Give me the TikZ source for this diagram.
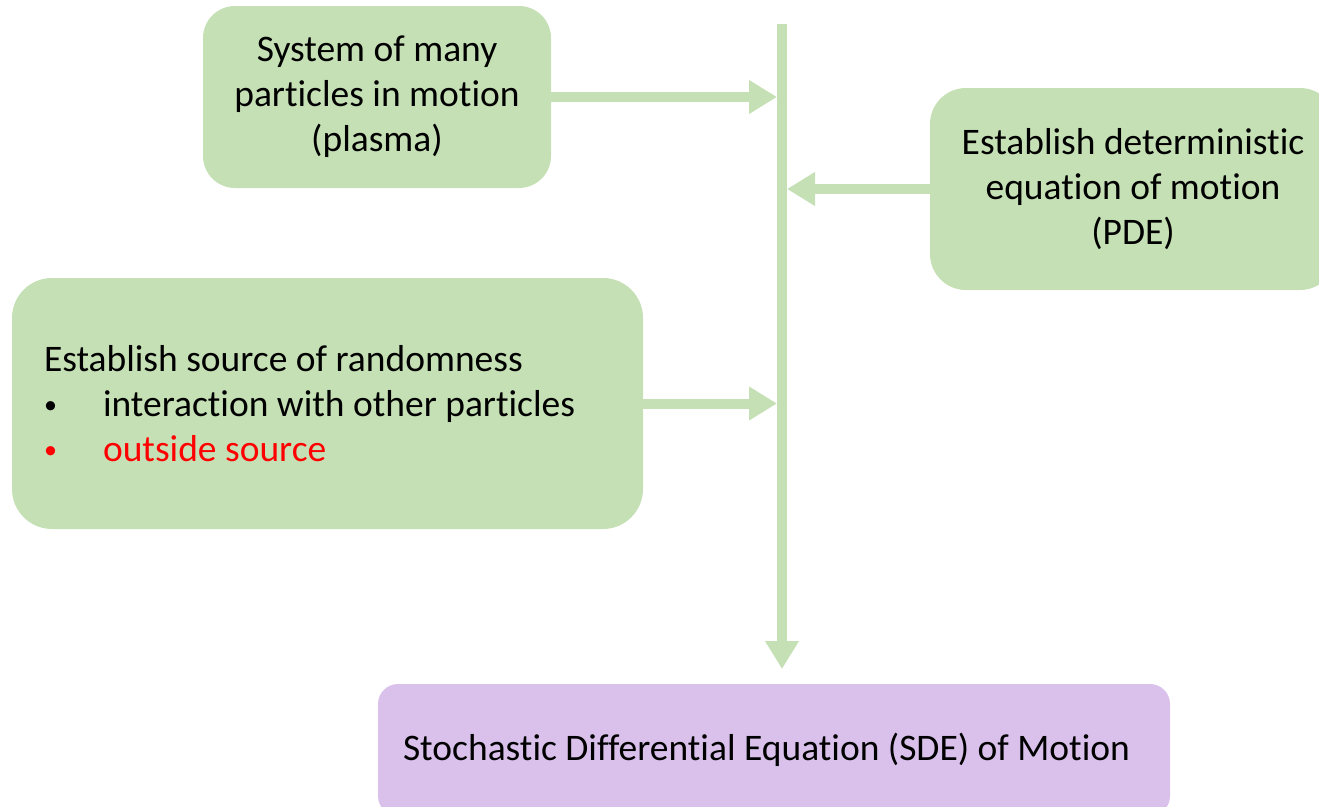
\documentclass[tikz,border=0pt]{standalone}
\usepackage{fontspec}
\setmainfont{Carlito}[Ligatures=NoCommon]
\usetikzlibrary{arrows.meta,positioning}
\definecolor{boxgreen}{HTML}{C5E0B4}
\definecolor{boxpurple}{HTML}{D9C1EB}
\newcommand{\bulletitem}{\makebox[59pt][l]{\raisebox{3pt}{\fontsize{26}{26}\selectfont\textbullet}}}
\begin{document}
\begin{tikzpicture}[x=1pt, y=-1pt,
    every node/.style={font=\fontsize{37.5}{45}\selectfont},
    greenbox/.style={fill=boxgreen, rounded corners=32pt, inner sep=0pt},
    flow/.style={draw=boxgreen, line width=10pt, -{Triangle[width=32pt,length=28pt]}}]
    % Page frame
    \useasboundingbox (0,0) rectangle (1319,806);

    % Boxes
    \node[greenbox, minimum width=348pt, minimum height=182pt, align=center]
        (sys) at (377,97) {System of many\\particles in motion\\(plasma)};
    \node[greenbox, rounded corners=36pt, minimum width=406pt, minimum height=202pt, align=center]
        (det) at (1133,189) {Establish deterministic\\equation of motion\\(PDE)};
    \node[greenbox, rounded corners=40pt, minimum width=631pt, minimum height=251pt,
        text width=567pt, inner xsep=32pt, align=flush left]
        (rand) at (327.5,403.5) {Establish source of randomness\\
        \bulletitem interaction with other particles\\
        \color{red}\bulletitem outside source};
    \node[fill=boxpurple, rounded corners=20pt, minimum width=792pt, minimum height=132pt,
        text width=742pt, inner xsep=25pt, inner ysep=0pt, align=flush left]
        (sde) at (774,750) {Stochastic Differential Equation (SDE) of Motion};

    % Main spine down to the SDE box
    \coordinate (spine) at (782,24);
    \draw[flow] (spine) -- (782,669);

    % Inputs joining the spine
    \draw[flow] (sys.east) -- ([xshift=-5pt]sys.east -| spine);
    \draw[flow] (det.west) -- ([xshift=5pt]det.west -| spine);
    \draw[flow] (rand.east) -- ([xshift=-5pt]rand.east -| spine);
\end{tikzpicture}
\end{document}
